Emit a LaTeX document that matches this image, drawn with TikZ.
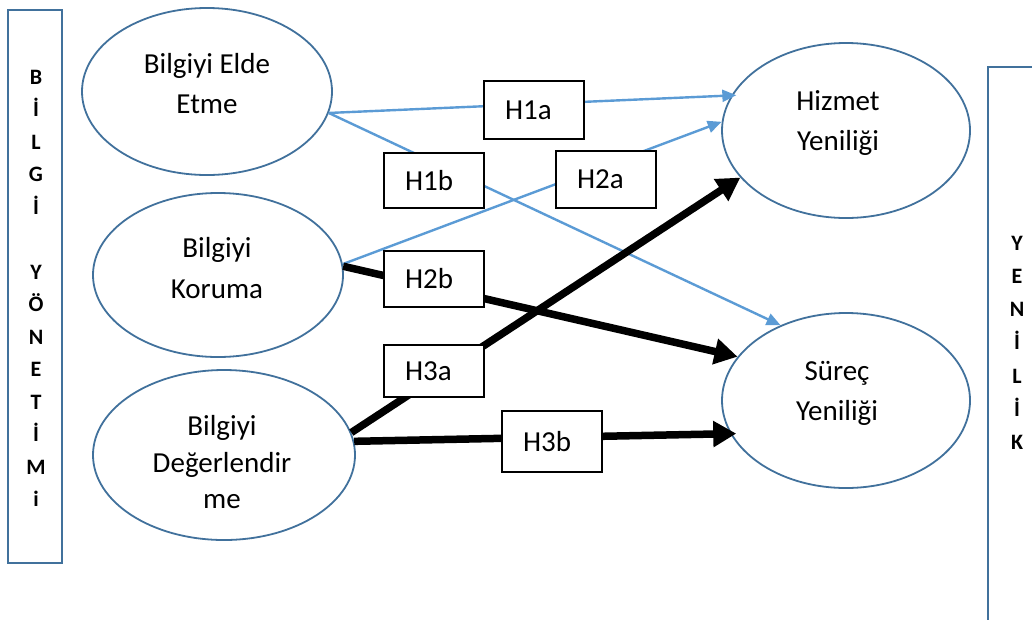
\documentclass[tikz,border=0pt]{standalone}
\usepackage{fontspec}
\setmainfont{Carlito}
\usetikzlibrary{arrows.meta,shapes.geometric}
\definecolor{shapeblue}{HTML}{41719C}
\definecolor{linkblue}{HTML}{5B9BD5}

\begin{document}
\begin{tikzpicture}[x=1pt,y=-1pt,
  concept/.style={ellipse, draw=shapeblue, line width=1.8pt, fill=white, inner sep=0pt},
  ctext/.style={anchor=base, font=\fontsize{29}{35}\selectfont, inner sep=0pt},
  hbox/.style={draw=black, line width=1.2pt, fill=white, minimum height=#1,
    text width=58pt, inner xsep=21pt, inner ysep=0pt, align=left,
    font=\fontsize{29}{35}\selectfont},
  barframe/.style={draw=shapeblue, line width=2.2pt, inner sep=0pt},
  barletter/.style={anchor=base, font=\fontsize{22}{26}\selectfont\bfseries, inner sep=0pt},
  thin link/.style={draw=linkblue, line width=2.4pt, -{Triangle[length=14pt,width=12pt]}},
  thick link/.style={draw=black, line width=7.5pt, -{Triangle[length=23pt,width=25pt]}},
]
\useasboundingbox (0,0) rectangle (1032,619);
\begin{scope}
\clip (0,0) rectangle (1032,619);

% side frames
\node[barframe, minimum width=54pt, minimum height=553pt] (leftbar) at (35,286.5) {};
\node[barframe, minimum width=62pt, minimum height=558pt] (rightbar) at (1019,346) {};

\foreach \ch/\k in {B/0,İ/1,L/2,G/3,İ/4,Y/6,Ö/7,N/8,E/9,T/10,İ/11,M/12,i/13}
  \node[barletter] (left\k) at (36,{84+\k*32.5}) {\ch};
\foreach \ch/\k in {Y/0,E/1,N/2,İ/3,L/4,İ/5,K/6}
  \node[barletter] (right\k) at (1017,{250+\k*33.3}) {\ch};

% concepts
\node[concept, minimum width=250pt, minimum height=167pt] (e1) at (207,91.5) {};
\node[concept, minimum width=250pt, minimum height=164pt] (e2) at (218,275) {};
\node[concept, minimum width=262pt, minimum height=170pt] (e3) at (224,455) {};
\node[concept, minimum width=248pt, minimum height=175pt] (e4) at (846,130.5) {};
\node[concept, minimum width=248pt, minimum height=175pt] (e5) at (846,400.5) {};

\node[ctext] (e1l1) at (207,73) {Bilgiyi Elde};
\node[ctext] (e1l2) at (207,113) {Etme};
\node[ctext] (e2l1) at (217,257) {Bilgiyi};
\node[ctext] (e2l2) at (217,298) {Koruma};
\node[ctext] (e3l1) at (222,435) {Bilgiyi};
\node[ctext] (e3l2) at (222,472) {Değerlendir};
\node[ctext] (e3l3) at (222,508) {me};
\node[ctext] (e4l1) at (838,110) {Hizmet};
\node[ctext] (e4l2) at (838,150) {Yeniliği};
\node[ctext] (e5l1) at (837,380) {Süreç};
\node[ctext] (e5l2) at (837,420) {Yeniliği};

% hypotheses links
\draw[thin link, shorten >=-5pt] (e1.-10) -- (e4.163);
\draw[thin link] (e1.-10) -- (e5.131);
\draw[thin link] (e2.5) -- (e4.176);
\draw[thick link] (e2.4) -- (e5.158);
\draw[thick link] (e3.10) -- (e4.204);
\draw[thick link, shorten >=-6pt] (e3.6) -- (e5.196);

% hypothesis labels
\node[hbox=58pt] (h1a) at (534,110) {H1a};
\node[hbox=55pt] (h1b) at (434,180.5) {H1b};
\node[hbox=57pt] (h2a) at (606,179.5) {H2a};
\node[hbox=56pt] (h2b) at (434,279) {H2b};
\node[hbox=52pt] (h3a) at (434,371) {H3a};
\node[hbox=61pt] (h3b) at (552,441.5) {H3b};
\end{scope}
\end{tikzpicture}
\end{document}
